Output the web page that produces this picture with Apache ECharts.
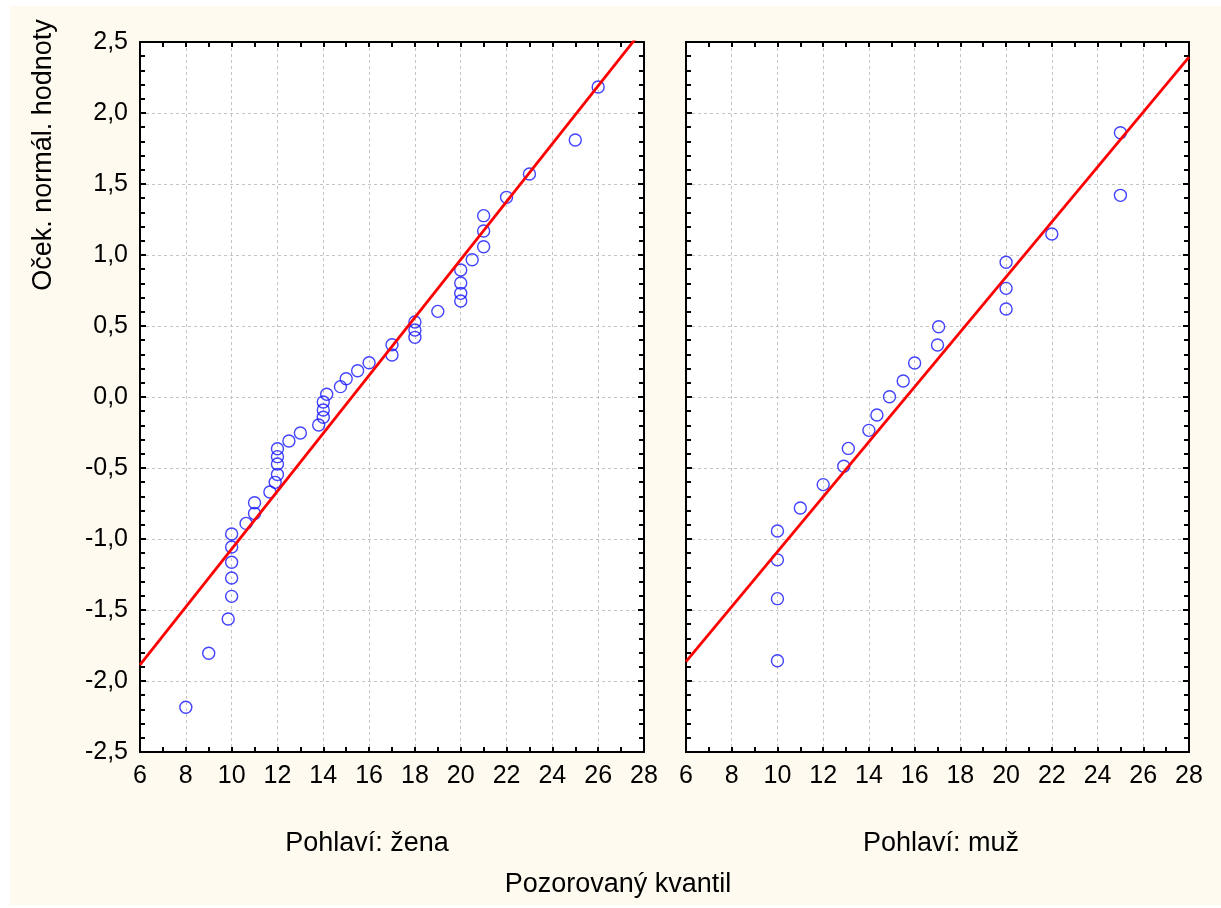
<!DOCTYPE html>
<html>
<head>
<meta charset="utf-8">
<script src="https://cdn.jsdelivr.net/npm/echarts@6/dist/echarts.min.js"></script>
<style>
  html, body { margin: 0; padding: 0; background: #fff; }
  #paper { position: absolute; left: 10px; top: 6px; width: 1211px; height: 899px; background: #fffaef; }
  #chart { position: absolute; left: 0; top: 0; width: 1221px; height: 908px; }
</style>
</head>
<body>
<div id="paper"></div>
<div id="chart"></div>
<script>
// Pohlaví: žena - pozorovaný kvantil / očekávaná normální hodnota
const femaleX = [8, 9, 9.85, 10, 10, 10, 10, 10, 10.63, 11, 11, 11.67, 11.9, 12, 12, 12, 12, 12.5, 13, 13.8,
  14, 14, 14, 14.15, 14.75, 15, 15.5, 16, 17, 17, 18, 18, 18, 19, 20, 20, 20, 20, 20.5, 21, 21, 21, 22, 23, 25, 26]
const femaleY = [-2.185, -1.805, -1.563, -1.404, -1.275, -1.164, -1.056, -0.965, -0.89, -0.82, -0.745, -0.669,
  -0.601, -0.545, -0.472, -0.42, -0.364, -0.31, -0.254, -0.197, -0.143, -0.092, -0.035, 0.019, 0.073, 0.129,
  0.185, 0.241, 0.296, 0.368, 0.42, 0.472, 0.528, 0.603, 0.676, 0.73, 0.803, 0.894, 0.967, 1.058, 1.169,
  1.277, 1.406, 1.57, 1.81, 2.183]

// Pohlaví: muž
const maleX = [10, 10, 10, 10, 11, 12, 12.9, 13.1, 14, 14.35, 14.9, 15.5, 16, 17, 17.05, 20, 20, 20, 22, 25, 25]
const maleY = [-1.857, -1.42, -1.147, -0.944, -0.782, -0.617, -0.488, -0.362, -0.235, -0.127, 0.002, 0.113,
  0.239, 0.366, 0.495, 0.62, 0.765, 0.949, 1.148, 1.42, 1.861]

// proložené přímky (koncové body)
const femaleFit = [[6, -1.887], [28, 2.599]]
const maleFit = [[6, -1.864], [28, 2.393]]

const panelTitles = ['Pohlaví: žena', 'Pohlaví: muž']
const xTitle = 'Pozorovaný kvantil'
const yTitle = 'Oček. normál. hodnoty'

const FONT = '"Liberation Sans", Arial, sans-serif'
const zip = (xs, ys) => xs.map((x, i) => [x, ys[i]])
const fmtY = v => v.toFixed(1).replace('.', ',')

const gridLine = { show: true, lineStyle: { color: '#c4c4c4', type: [3, 3], width: 1 } }
const blackLine = { show: true, onZero: false, lineStyle: { color: '#000', width: 2 } }

function xAxis(gridIndex, position, labels) {
  return {
    type: 'value', gridIndex, position, min: 6, max: 28, interval: 2,
    axisLine: blackLine,
    axisTick: { show: true, inside: true, length: 5, lineStyle: { color: '#000', width: 2 } },
    minorTick: { show: true, splitNumber: 2, length: 5, lineStyle: { color: '#000', width: 2 } },
    axisLabel: { show: labels, color: '#000', fontSize: 25, fontFamily: FONT, margin: 12 },
    splitLine: position === 'bottom' ? gridLine : { show: false },
  }
}

function yAxis(gridIndex, position, labels) {
  return {
    type: 'value', gridIndex, position, min: -2.5, max: 2.5, interval: 0.5,
    axisLine: blackLine,
    axisTick: { show: true, inside: true, length: 6, lineStyle: { color: '#000', width: 2 } },
    minorTick: { show: true, splitNumber: 5, length: 5, lineStyle: { color: '#000', width: 2 } },
    axisLabel: { show: labels, color: '#000', fontSize: 25, fontFamily: FONT, margin: 12, formatter: fmtY },
    splitLine: position === 'left' ? gridLine : { show: false },
  }
}

function points(data, xi, yi) {
  return {
    type: 'scatter', xAxisIndex: xi, yAxisIndex: yi, data, symbol: 'circle', symbolSize: 12,
    itemStyle: { color: 'rgba(0,0,0,0)', borderColor: '#1414ff', borderWidth: 1.4 },
    z: 3,
  }
}

function fitLine(data, xi, yi) {
  return {
    type: 'line', xAxisIndex: xi, yAxisIndex: yi, data, symbol: 'none', clip: true,
    lineStyle: { color: '#ff0000', width: 2.8 }, z: 4,
  }
}

const text = (str, x, y, rotation) => ({
  type: 'text', x, y, rotation: rotation || 0,
  style: { text: str, fill: '#000', fontSize: 27, fontFamily: FONT, textAlign: 'center', textVerticalAlign: 'middle' },
})

const chart = echarts.init(document.getElementById('chart'))
chart.setOption({
  animation: false,
  backgroundColor: 'transparent',
  grid: [
    { left: 140, top: 42, width: 504, height: 710, show: true, backgroundColor: '#fff', borderWidth: 0, outerBoundsMode: 'none' },
    { left: 686, top: 42, width: 503, height: 710, show: true, backgroundColor: '#fff', borderWidth: 0, outerBoundsMode: 'none' },
  ],
  xAxis: [
    xAxis(0, 'bottom', true), xAxis(0, 'top', false),
    xAxis(1, 'bottom', true), xAxis(1, 'top', false),
  ],
  yAxis: [
    yAxis(0, 'left', true), yAxis(0, 'right', false),
    yAxis(1, 'left', false), yAxis(1, 'right', false),
  ],
  series: [
    points(zip(femaleX, femaleY), 0, 0),
    fitLine(femaleFit, 0, 0),
    points(zip(maleX, maleY), 2, 2),
    fitLine(maleFit, 2, 2),
  ],
  graphic: [
    text(panelTitles[0], 367, 844),
    text(panelTitles[1], 941, 844),
    text(xTitle, 618, 885),
    text(yTitle, 44, 155, Math.PI / 2),
  ],
})
</script>
</body>
</html>
